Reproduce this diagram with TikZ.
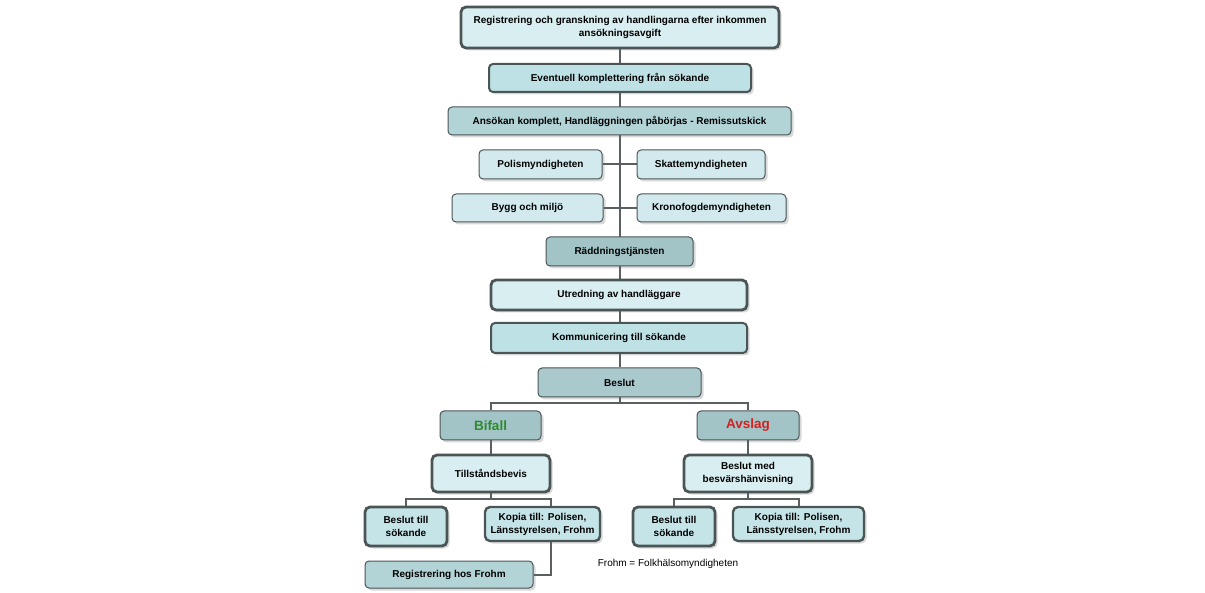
\documentclass[tikz,border=0pt]{standalone}
\usepackage{fontspec}
\setmainfont{Liberation Sans}
\usetikzlibrary{shadows,backgrounds,calc}
\definecolor{edge}{HTML}{4C5556}
\definecolor{lnk}{HTML}{5A6061}
\definecolor{fA}{HTML}{D8EEF1}
\definecolor{fB}{HTML}{BEE1E5}
\definecolor{fC}{HTML}{B2D4D7}
\definecolor{fD}{HTML}{D2EAED}
\definecolor{fE}{HTML}{A3C4C6}
\definecolor{fF}{HTML}{C4E4E7}
\definecolor{okgreen}{HTML}{2E8B2E}
\definecolor{nored}{HTML}{D42020}
\tikzset{
  base/.style={rounded corners=4pt, draw=edge, inner sep=0pt, align=center,
    font=\fontsize{10}{13}\selectfont\bfseries,
    drop shadow={shadow xshift=2.5pt, shadow yshift=-2.5pt, opacity=0.25, fill=black!60}},
  thickbox/.style={base, line width=2.8pt, rounded corners=5pt},
  medbox/.style={base, line width=2pt},
  thinbox/.style={base, line width=1pt},
  link/.style={draw=lnk, line width=2pt},
}
\begin{document}
\begin{tikzpicture}[x=1pt,y=-1pt]
\useasboundingbox (0,0) rectangle (1205,593);
\node[thickbox, fill=fA, minimum width=318, minimum height=41] (r1) at (620,27.5)
  {Registrering och granskning av handlingarna efter inkommen\\ansökningsavgift};
\node[medbox, fill=fB, minimum width=262, minimum height=28] (event) at (620,78) {Eventuell komplettering från sökande};
\node[thinbox, fill=fC, minimum width=343, minimum height=28] (ansok) at (619.5,121) {Ansökan komplett, Handläggningen påbörjas - Remissutskick};
\node[thinbox, fill=fD, minimum width=123, minimum height=29] (polis) at (540.5,164.5) {Polismyndigheten};
\node[thinbox, fill=fD, minimum width=128, minimum height=29] (skatte) at (701,164.5) {Skattemyndigheten};
\node[thinbox, fill=fD, minimum width=151, minimum height=28] (bygg) at (527.5,208) {Bygg och miljö};
\node[thinbox, fill=fD, minimum width=149, minimum height=28] (krono) at (711.5,208) {Kronofogdemyndigheten};
\node[thinbox, fill=fE, minimum width=147, minimum height=29] (radd) at (619.5,251.5) {Räddningstjänsten};
\node[thickbox, fill=fA, minimum width=256, minimum height=30] (utred) at (619,295) {Utredning av handläggare};
\node[medbox, fill=fB, minimum width=256, minimum height=30] (komm) at (619,338) {Kommunicering till sökande};
\node[thinbox, fill=fC!95!black!100, minimum width=163, minimum height=29] (beslut) at (619.5,382.5) {Beslut};
\node[thinbox, fill=fE, minimum width=101, minimum height=29, font=\fontsize{13.5}{16}\selectfont\bfseries, text=okgreen] (bifall) at (490.5,425.5) {Bifall};
\node[thinbox, fill=fE, minimum width=102, minimum height=29, font=\fontsize{13.5}{16}\selectfont\bfseries, text=nored] (avslag) at (748,425.5) {Avslag};
\node[thickbox, fill=fA, minimum width=118, minimum height=37] (till) at (491,473.5) {Tillståndsbevis};
\node[thickbox, fill=fA, minimum width=128, minimum height=37] (bmed) at (748,473.5) {Beslut med\\besvärshänvisning};
\node[thickbox, fill=fF, minimum width=82, minimum height=39] (bts1) at (406,526.5) {Beslut till\\sökande};
\node[thickbox, line width=2.4pt, fill=fF, minimum width=115, minimum height=34] (kop1) at (542.5,524) {Kopia till: Polisen,\\Länsstyrelsen, Frohm};
\node[thickbox, fill=fF, minimum width=82, minimum height=39] (bts2) at (674,526.5) {Beslut till\\sökande};
\node[thickbox, line width=2.4pt, fill=fF, minimum width=131, minimum height=34] (kop2) at (798.5,524) {Kopia till: Polisen,\\Länsstyrelsen, Frohm};
\node[thinbox, fill=fC, minimum width=168, minimum height=27] (regf) at (449,574.5) {Registrering hos Frohm};
\node[font=\fontsize{10}{12}\selectfont, inner sep=0pt] (note) at (668,563.5) {Frohm = Folkhälsomyndigheten};
\begin{scope}[on background layer]
\draw[link] (r1.south) -- (r1.south |- beslut.north);
\draw[link] (polis.east) -- (skatte.west);
\draw[link] (bygg.east) -- (krono.west);
\draw[link] (beslut.south) -- ++(0,6) -| (bifall.north);
\draw[link] (beslut.south) -- ++(0,6) -| (avslag.north);
\draw[link] (bifall.south) -- (bifall.south |- till.north);
\draw[link] (avslag.south) -- (bmed.north);
\draw[link] (till.south) -- ++(0,6) -| (bts1.north);
\draw[link] (till.south) -- ++(0,6) -| ([xshift=8pt]kop1.north);
\draw[link] ([xshift=8pt]kop1.south) |- (regf.east);
\draw[link] (bmed.south) -- ++(0,6) -| (bts2.north);
\draw[link] (bmed.south) -- ++(0,6) -| (kop2.north);
\end{scope}
\end{tikzpicture}
\end{document}
